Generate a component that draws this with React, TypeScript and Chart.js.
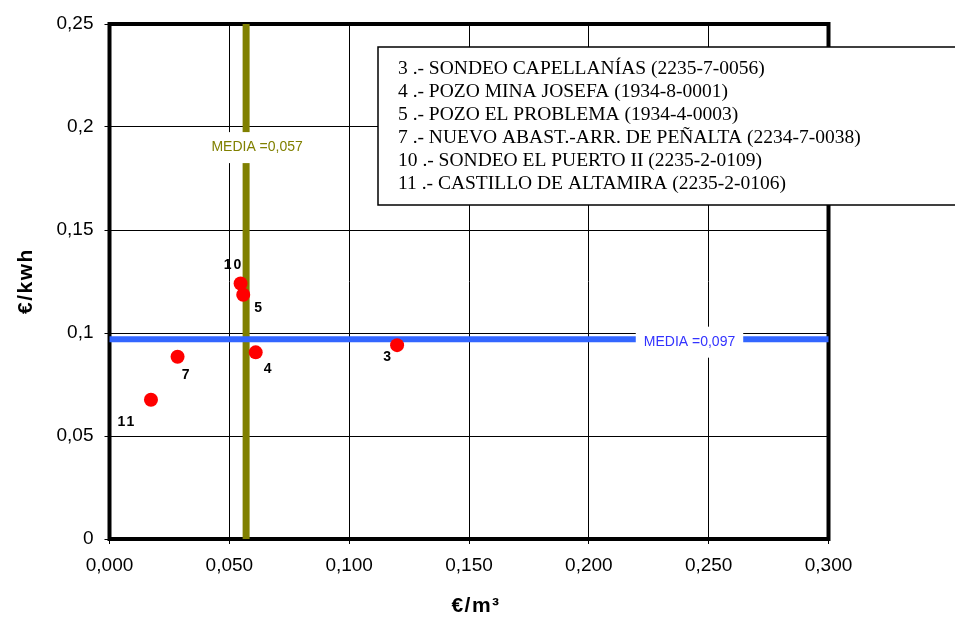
import { useEffect, useRef } from 'react';
import { Chart, registerables } from 'chart.js';

Chart.register(...registerables);

// ---- Data ----
const stationIds = ['3', '4', '5', '7', '10', '11'];
const stationNames = [
  '3 .- SONDEO CAPELLANÍAS (2235-7-0056)',
  '4 .- POZO MINA JOSEFA (1934-8-0001)',
  '5 .- POZO EL PROBLEMA (1934-4-0003)',
  '7 .- NUEVO ABAST.-ARR. DE PEÑALTA (2234-7-0038)',
  '10 .- SONDEO EL PUERTO II (2235-2-0109)',
  '11 .- CASTILLO DE ALTAMIRA (2235-2-0106)',
];
const costPerM3 = [0.12, 0.061, 0.0558, 0.0284, 0.0547, 0.0173];
const costPerKwh = [0.0941, 0.0906, 0.1186, 0.0885, 0.124, 0.0676];
const meanPerM3 = 0.057;
const meanPerKwh = 0.097;
const meanLabelM3 = 'MEDIA =0,057';
const meanLabelKwh = 'MEDIA =0,097';
const xTickValues = [0, 0.05, 0.1, 0.15, 0.2, 0.25, 0.3];
const yTickValues = [0, 0.05, 0.1, 0.15, 0.2, 0.25];
const xTitle = '€/m³';
const yTitle = '€/kwh';

// ---- Styling (label offsets in pixels) ----
const labelOffsets: [number, number][] = [
  [-10, 12],
  [12, 17],
  [15, 13],
  [8, 18],
  [-8, -18],
  [-25, 22],
];

const OLIVE = '#808000';
const BLUE = '#3366FF';

export default function App() {
  const ref = useRef<HTMLCanvasElement | null>(null);

  useEffect(() => {
    const canvas = ref.current;
    if (!canvas) return;

    const overlay = {
      id: 'overlay',
      beforeDatasetsDraw(chart: any) {
        const { ctx, chartArea: a } = chart;
        ctx.save();
        ctx.strokeStyle = '#000';
        ctx.lineWidth = 4;
        ctx.strokeRect(a.left, a.top, a.right - a.left, a.bottom - a.top);
        ctx.restore();
      },
      afterDatasetsDraw(chart: any) {
        const { ctx, scales } = chart;
        const xs = scales.x;
        const ys = scales.y;
        ctx.save();

        // mean labels
        ctx.font = '14px "Liberation Sans", Arial, sans-serif';
        ctx.textAlign = 'center';
        ctx.textBaseline = 'middle';
        const drawMean = (text: string, cx: number, cy: number, color: string) => {
          const w = ctx.measureText(text).width + 16;
          ctx.fillStyle = '#fff';
          ctx.fillRect(cx - w / 2, cy - 15.5, w, 31);
          ctx.fillStyle = color;
          ctx.fillText(text, cx, cy);
        };
        drawMean(meanLabelM3, xs.getPixelForValue(meanPerM3) + 11, ys.getPixelForValue(0.19), OLIVE);
        drawMean(meanLabelKwh, xs.getPixelForValue(0.242), ys.getPixelForValue(meanPerKwh) + 3, '#3333FF');

        // point labels
        ctx.font = 'bold 14px "Liberation Sans", Arial, sans-serif';
        (ctx as any).letterSpacing = '2px';
        ctx.fillStyle = '#000';
        stationIds.forEach((id, i) => {
          const px = xs.getPixelForValue(costPerM3[i]);
          const py = ys.getPixelForValue(costPerKwh[i]);
          ctx.fillText(id, px + labelOffsets[i][0] + 1, py + labelOffsets[i][1]);
        });

        // axis titles
        ctx.font = 'bold 21px "Liberation Sans", Arial, sans-serif';
        (ctx as any).letterSpacing = '1.5px';
        ctx.fillText(xTitle, 476, 606);
        ctx.save();
        ctx.translate(26, 281);
        ctx.rotate(-Math.PI / 2);
        ctx.fillText(yTitle, 0, 0);
        ctx.restore();
        (ctx as any).letterSpacing = '0px';

        // legend box
        ctx.fillStyle = '#fff';
        ctx.fillRect(378, 47, 600, 158);
        ctx.strokeStyle = '#000';
        ctx.lineWidth = 1.5;
        ctx.strokeRect(378, 47, 600, 158);
        ctx.fillStyle = '#000';
        ctx.font = '19.5px "Liberation Serif", "Times New Roman", serif';
        ctx.textAlign = 'left';
        stationNames.forEach((name, i) => {
          ctx.fillText(name, 398, 69 + i * 23);
        });

        ctx.restore();
      },
    };

    const chart = new Chart(canvas, {
      type: 'scatter',
      data: {
        datasets: [
          {
            type: 'line',
            data: [
              { x: meanPerM3, y: 0 },
              { x: meanPerM3, y: 0.25 },
            ],
            borderColor: OLIVE,
            borderWidth: 7,
            pointRadius: 0,
            order: 3,
          } as any,
          {
            type: 'line',
            data: [
              { x: 0, y: meanPerKwh },
              { x: 0.3, y: meanPerKwh },
            ],
            borderColor: BLUE,
            borderWidth: 6,
            borderCapStyle: 'round',
            pointRadius: 0,
            order: 2,
          } as any,
          {
            type: 'scatter',
            data: costPerM3.map((x, i) => ({ x, y: costPerKwh[i] })),
            backgroundColor: '#FF0000',
            borderWidth: 0,
            pointRadius: 7,
            order: 1,
          },
        ],
      },
      options: {
        responsive: false,
        animation: false,
        layout: { padding: { top: 24, right: 126.5, left: 0, bottom: 0 } },
        plugins: {
          legend: { display: false },
          tooltip: { enabled: false },
        },
        scales: {
          x: {
            type: 'linear',
            min: 0,
            max: 0.3,
            afterFit: (s: any) => {
              s.height = 80;
            },
            afterBuildTicks: (s: any) => {
              s.ticks = xTickValues.map((v) => ({ value: v }));
            },
            grid: { color: '#000', lineWidth: 1, tickLength: 5, drawTicks: true },
            border: { display: false },
            ticks: {
              color: '#000',
              font: { family: '"Liberation Sans", Arial, sans-serif', size: 19 },
              padding: 10,
              maxRotation: 0,
              callback: (v: any) => Number(v).toFixed(3).replace('.', ','),
            },
          },
          y: {
            type: 'linear',
            min: 0,
            max: 0.25,
            afterFit: (s: any) => {
              s.width = 109.5;
            },
            afterBuildTicks: (s: any) => {
              s.ticks = yTickValues.map((v) => ({ value: v }));
            },
            grid: { color: '#000', lineWidth: 1, tickLength: 5, drawTicks: true },
            border: { display: false },
            ticks: {
              color: '#000',
              font: { family: '"Liberation Sans", Arial, sans-serif', size: 19 },
              padding: 11,
              callback: (v: any) => String(parseFloat(Number(v).toFixed(2))).replace('.', ','),
            },
          },
        },
      },
      plugins: [overlay],
    });

    return () => chart.destroy();
  }, []);

  return (
    <div style={{ position: 'absolute', left: 0, top: 0, width: 955, height: 619, background: '#fff' }}>
      <canvas ref={ref} width={955} height={619} style={{ display: 'block' }} />
    </div>
  );
}
